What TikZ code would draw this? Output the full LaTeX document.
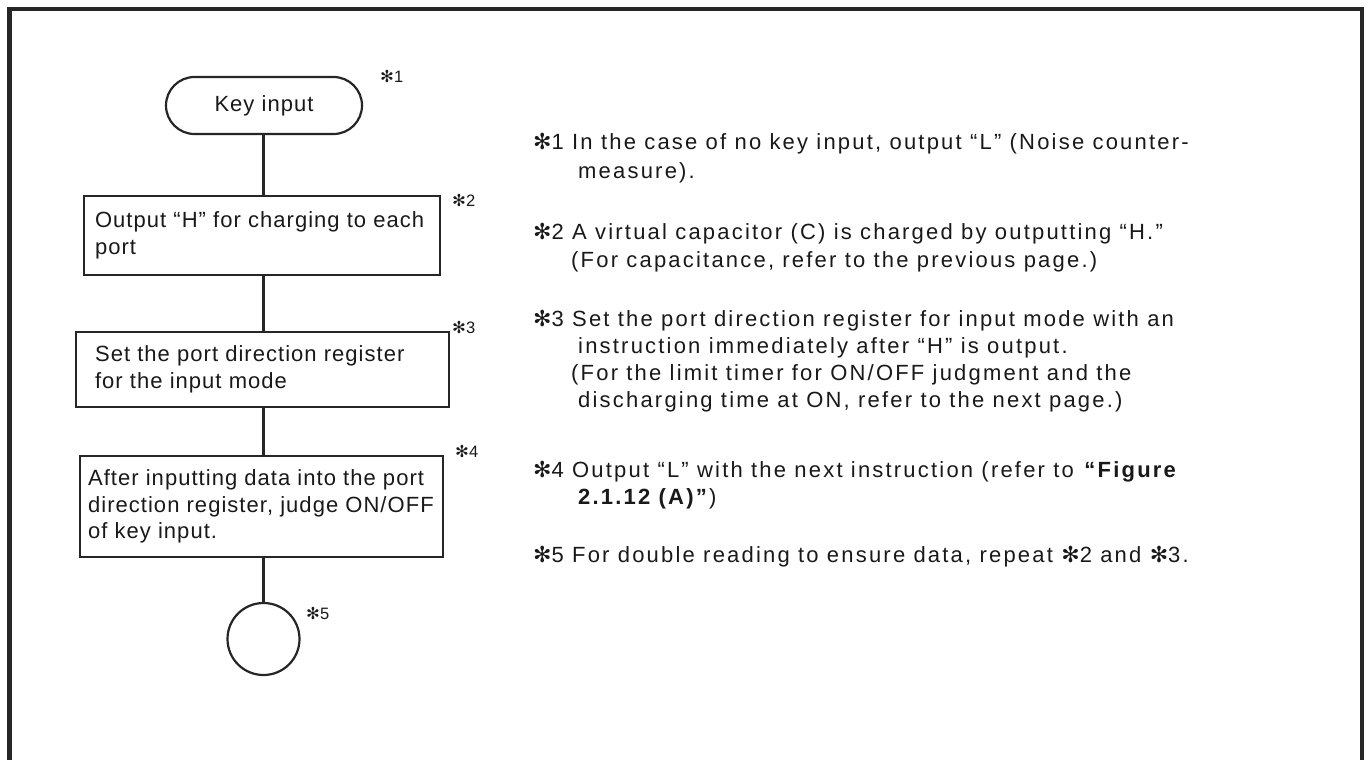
\documentclass[tikz,border=0pt]{standalone}
\usepackage{fontspec}
\setmainfont{Liberation Sans}
\newfontfamily\djv{DejaVu Sans}
\newfontfamily\notefont{Liberation Sans}[LetterSpace=10]
\newfontfamily\boxfont{Liberation Sans}[LetterSpace=4.7]
\newcommand{\astk}{{\djv ✻}}
\begin{document}
\begin{tikzpicture}[x=1pt,y=-1pt,
  flow/.style={draw=black!85, line width=2.2pt},
  boxnode/.style={flow, rectangle, inner sep=0pt},
  txt/.style={inner sep=0pt, font=\boxfont\fontsize{22}{26.5}\selectfont, align=left, text=black!90},
  note/.style={inner sep=0pt, anchor=base west, font=\notefont\fontsize{22}{26}\selectfont, text=black!90},
  lab/.style={inner sep=0pt, anchor=west, font=\fontsize{16.5}{18}\selectfont, text=black!90},
  conn/.style={draw=black!85, line width=2.2pt}]
\useasboundingbox (0,0) rectangle (1369,760);
\fill[white] (0,0) rectangle (1369,760);
% frame
\draw[line width=4.5pt, black!85] (9.5,762) -- (9.5,9) -- (1362,9) -- (1362,762);
% flowchart
\node[flow, rectangle, rounded corners=28.5pt, minimum width=196pt, minimum height=57pt, inner sep=0pt, font=\boxfont\fontsize{22}{26}\selectfont, text=black!90] (k) at (264,105.5) {Key input};
\node[boxnode, minimum width=356pt, minimum height=79pt] (b2) at (262,235.5) {};
\node[txt, anchor=west] (t2) at ([xshift=12pt]b2.west) {Output “H” for charging to each\\port};
\node[boxnode, minimum width=373pt, minimum height=75pt] (b3) at (262.5,369.5) {};
\node[txt, anchor=west] (t3) at ([xshift=20pt]b3.west) {Set the port direction register\\for the input mode};
\node[boxnode, minimum width=363pt, minimum height=101pt] (b4) at (261.5,506.5) {};
\node[txt, anchor=west] (t4) at ([xshift=9pt]b4.west) {After inputting data into the port\\direction register, judge ON/OFF\\of key input.};
\node[flow, circle, minimum size=72pt, inner sep=0pt] (c) at (263.5,639) {};
\draw[conn] (k.south -| 263.5,0) -- (263.5,0 |- b2.north);
\draw[conn] (263.5,0 |- b2.south) -- (263.5,0 |- b3.north);
\draw[conn] (263.5,0 |- b3.south) -- (263.5,0 |- b4.north);
\draw[conn] (263.5,0 |- b4.south) -- (c.north);
% labels
\node[lab] (l1) at (380,76) {\astk1};
\node[lab] (l2) at (452,200) {\astk2};
\node[lab] (l3) at (452,327) {\astk3};
\node[lab] (l4) at (455,451) {\astk4};
\node[lab] (l5) at (306,613) {\astk5};
% notes
\node[note] (n1a) at (533,149) {\astk1 In the case of no key input, output “L” (Noise counter-};
\node[note] (n1b) at (578,178) {measure).};
\node[note] (n2a) at (533,239) {\astk2 A virtual capacitor (C) is charged by outputting “H.”};
\node[note] (n2b) at (571,267) {(For capacitance, refer to the previous page.)};
\node[note] (n3a) at (533,326) {\astk3 Set the port direction register for input mode with an};
\node[note] (n3b) at (578,353) {instruction immediately after “H” is output.};
\node[note] (n3c) at (571,380) {(For the limit timer for ON/OFF judgment and the};
\node[note] (n3d) at (578,407) {discharging time at ON, refer to the next page.)};
\node[note] (n4a) at (533,477) {\astk4 Output “L” with the next instruction (refer to \textbf{“Figure}};
\node[note] (n4b) at (578,504) {\textbf{2.1.12 (A)”})};
\node[note] (n5) at (533,562) {\astk5 For double reading to ensure data, repeat \astk2 and \astk3.};
\end{tikzpicture}
\end{document}
